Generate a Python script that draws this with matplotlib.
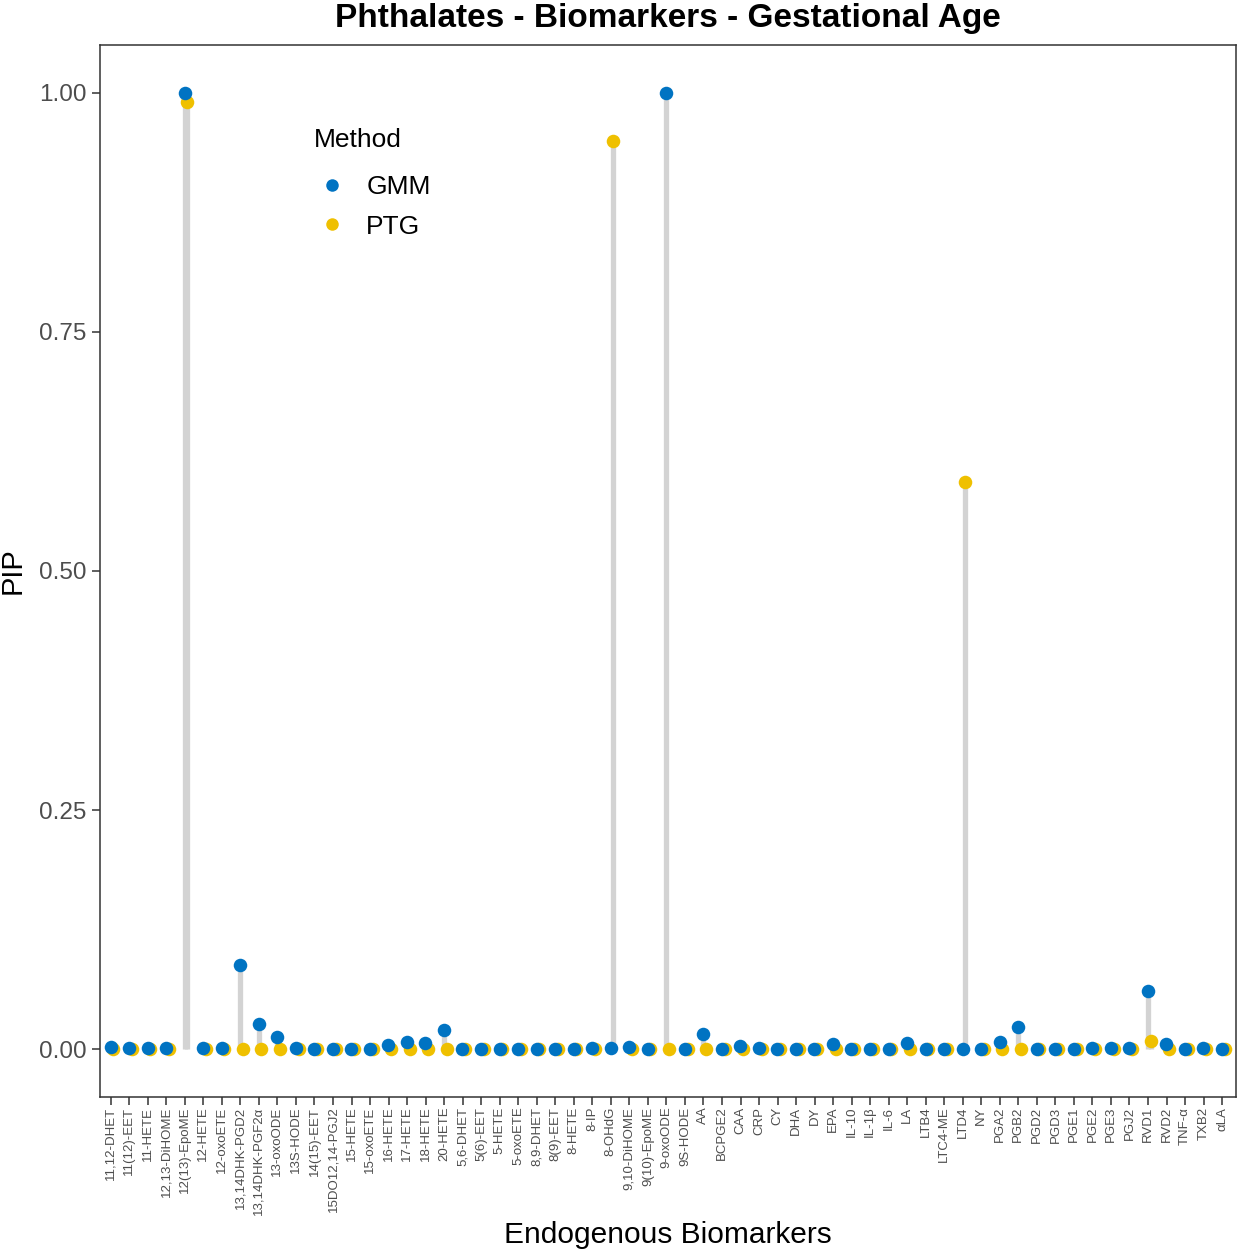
import matplotlib
matplotlib.use("Agg")
import matplotlib.pyplot as plt
import numpy as np
from matplotlib.lines import Line2D

plt.rcParams['font.family'] = ['Liberation Sans', 'DejaVu Sans']

biomarkers = ["11,12-DHET", "11(12)-EET", "11-HETE", "12,13-DiHOME", "12(13)-EpoME",
              "12-HETE", "12-oxoETE", "13,14DHK-PGD2", "13,14DHK-PGF2α", "13-oxoODE",
              "13S-HODE", "14(15)-EET", "15DO12,14-PGJ2", "15-HETE", "15-oxoETE",
              "16-HETE", "17-HETE", "18-HETE", "20-HETE", "5,6-DHET",
              "5(6)-EET", "5-HETE", "5-oxoETE", "8,9-DHET", "8(9)-EET",
              "8-HETE", "8-IP", "8-OHdG", "9,10-DiHOME", "9(10)-EpoME",
              "9-oxoODE", "9S-HODE", "AA", "BCPGE2", "CAA",
              "CRP", "CY", "DHA", "DY", "EPA",
              "IL-10", "IL-1β", "IL-6", "LA", "LTB4",
              "LTC4-ME", "LTD4", "NY", "PGA2", "PGB2",
              "PGD2", "PGD3", "PGE1", "PGE2", "PGE3",
              "PGJ2", "RVD1", "RVD2", "TNF-α", "TXB2", "αLA"]

gmm = [0.002, 0.001, 0.001, 0.001, 1.000,
       0.001, 0.001, 0.088, 0.026, 0.0125,
       0.001, 0.000, 0.000, 0.000, 0.000,
       0.004, 0.007, 0.006, 0.020, 0.000,
       0.000, 0.000, 0.000, 0.000, 0.000,
       0.000, 0.001, 0.001, 0.002, 0.000,
       1.000, 0.000, 0.016, 0.000, 0.003,
       0.001, 0.000, 0.000, 0.000, 0.005,
       0.000, 0.000, 0.000, 0.006, 0.000,
       0.000, 0.000, 0.000, 0.008, 0.023,
       0.000, 0.000, 0.000, 0.001, 0.001,
       0.001, 0.061, 0.005, 0.000, 0.001, 0.000]

ptg = [0.0] * 61
ptg[4] = 0.990
ptg[27] = 0.950
ptg[46] = 0.593
ptg[56] = 0.009

methods = ["GMM", "PTG"]
colors = ["#0073C2", "#EFC000"]

fig = plt.figure(figsize=(12.37, 12.56), dpi=100)
ax = fig.add_axes([0.0808, 0.1266, 0.9184, 0.8376])

x = np.arange(len(biomarkers))
xg = x - 0.01
xp = x + 0.14

ax.vlines(xg, 0, gmm, color="#D3D3D3", lw=3.8, zorder=1)
ax.vlines(xp, 0, ptg, color="#D3D3D3", lw=3.8, zorder=1)

ax.scatter(xp, ptg, s=95, color=colors[1], zorder=2, linewidths=0)
ax.scatter(xg, gmm, s=95, color=colors[0], zorder=3, linewidths=0)

ax.set_xlim(-0.58, len(x) - 1 + 0.75)
ax.set_ylim(-0.05, 1.05)
ax.set_xticks(x)
ax.set_xticklabels(biomarkers, rotation=90, fontsize=9.5, color="#4D4D4D")
ax.set_yticks([0, 0.25, 0.5, 0.75, 1.0])
ax.set_yticklabels(["0.00", "0.25", "0.50", "0.75", "1.00"], fontsize=17.5, color="#4D4D4D")
ax.tick_params(axis="both", length=6, width=1.1, color="#333333")
ax.tick_params(axis="x", pad=1)
for s in ax.spines.values():
    s.set_color("#333333")
    s.set_linewidth(1.1)

ax.set_xlabel("Endogenous Biomarkers", fontsize=21.5, labelpad=4)
ax.set_ylabel("PIP", fontsize=21, labelpad=9)
ax.set_title("Phthalates - Biomarkers - Gestational Age", fontsize=24,
             fontweight="bold", pad=13)

handles = [Line2D([0], [0], marker="o", linestyle="", markersize=9,
                  markerfacecolor=c, markeredgewidth=0) for c in colors]
leg = ax.legend(handles, methods, title="Method", loc="upper left",
                bbox_to_anchor=(0.167, 0.944), frameon=False, fontsize=19,
                title_fontsize=19, handletextpad=0.6, labelspacing=0.58,
                handlelength=1.4)
leg._legend_box.align = "left"
leg._legend_box.sep = 17

fig.savefig("out.png", dpi=100)
